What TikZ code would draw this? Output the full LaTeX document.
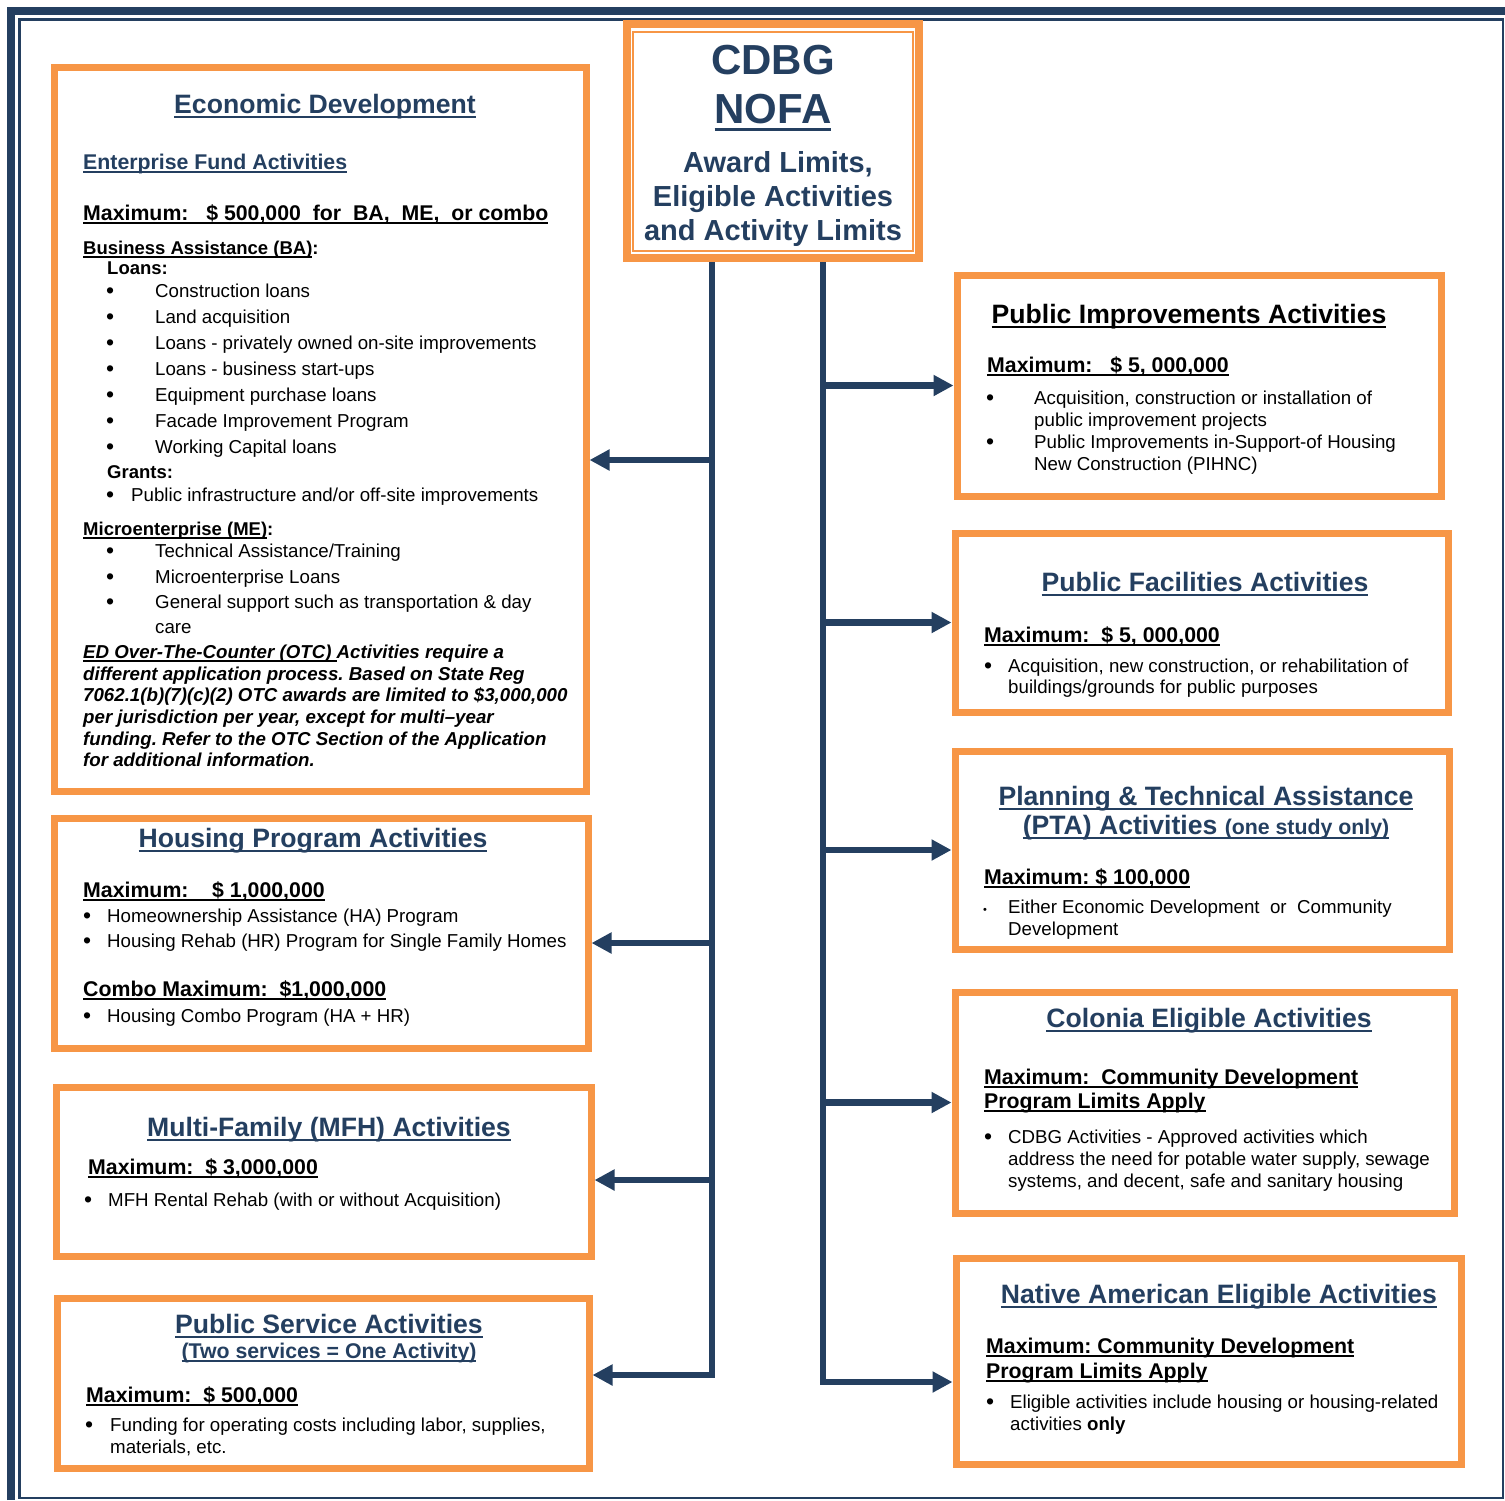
\documentclass[tikz,border=0pt]{standalone}
\usepackage{fontspec}
\setmainfont{Liberation Sans}
\usepackage{tikz}
\usetikzlibrary{arrows.meta}
\usetikzlibrary{positioning, calc}
\definecolor{cdbgnavy}{HTML}{243F60}
\definecolor{cdbgorange}{HTML}{F79646}
\frenchspacing
\newcommand{\ulbox}[1]{\setbox0=\hbox{#1}\rlap{\vrule height -0.11em depth 0.2em width \wd0}\box0}
\tikzset{
panel/.style = {rectangle, draw = cdbgorange, line width = 7pt, fill = white, inner sep = 0pt},
trunk/.style = {draw = cdbgnavy, line width = 6.5pt},
branch/.style = {draw = cdbgnavy, line width = 6.5pt, line join = miter, -{Triangle[length = 20pt, width = 20pt]}},
boxtitle/.style = {anchor = base, inner sep = 0pt, text = cdbgnavy, font = \fontsize{26.6}{30}\selectfont\bfseries},
boxsub/.style = {anchor = base, inner sep = 0pt, text = cdbgnavy, font = \fontsize{21.3}{24}\selectfont\bfseries},
maxtext/.style = {anchor = base west, inner sep = 0pt, font = \fontsize{21.3}{24}\selectfont\bfseries},
grouptext/.style = {anchor = base west, inner sep = 0pt, font = \fontsize{18.5}{22}\selectfont\bfseries},
bodytext/.style = {anchor = base west, inner sep = 0pt, font = \fontsize{18.7}{22}\selectfont},
notetext/.style = {bodytext, font = \fontsize{18.7}{22}\selectfont\bfseries\itshape},
bul/.style = {bodytext, font = \fontsize{23}{24}\selectfont, xshift = -1pt, yshift = -1.5pt},
}
\begin{document}
\begin{tikzpicture}[x = 1pt, y = -1pt]
    \useasboundingbox (0,0) rectangle (1505,1500);
    % page frame
    \draw[cdbgnavy, line width = 7.5pt] (11,1500) |- (1505,11);
    \draw[cdbgnavy, line width = 2.5pt] (19.5,19.5) rectangle (1503,1498);
    % title box
    \node[panel, line width = 8pt, minimum width = 292pt, minimum height = 234pt] (cdbg) at (773,141) {};
    \draw[cdbgorange, line width = 2pt] ($(cdbg.north west)+(10,12)$) rectangle ($(cdbg.south east)+(-10,-11)$);
    \node[boxtitle, font = \fontsize{42}{46}\selectfont\bfseries] (cdbgA) at (773,74) {CDBG};
    \node[boxtitle, font = \fontsize{42}{46}\selectfont\bfseries] (cdbgB) at (773,123) {\ulbox{NOFA}};
    \node[boxtitle, font = \fontsize{29}{34}\selectfont\bfseries] (cdbgC) at (778,172) {Award Limits,};
    \node[boxtitle, font = \fontsize{29}{34}\selectfont\bfseries] (cdbgD) at (773,206) {Eligible Activities};
    \node[boxtitle, font = \fontsize{29}{34}\selectfont\bfseries] (cdbgE) at (773,240) {and Activity Limits};
    % left column
    \node[panel, minimum width = 532pt, minimum height = 724pt] (ed) at (320,429) {};
    \node[panel, minimum width = 534pt, minimum height = 230pt] (hous) at (321,933) {};
    \node[panel, minimum width = 535pt, minimum height = 169pt] (mfh) at (323.5,1171.5) {};
    \node[panel, minimum width = 532pt, minimum height = 170pt] (ps) at (323,1383) {};
    % right column
    \node[panel, minimum width = 484pt, minimum height = 221pt] (pi) at (1199,385.5) {};
    \node[panel, minimum width = 493pt, minimum height = 179pt] (pf) at (1201.5,622.5) {};
    \node[panel, minimum width = 494pt, minimum height = 198pt] (pta) at (1202,850) {};
    \node[panel, minimum width = 499pt, minimum height = 221pt] (col) at (1204.5,1102.5) {};
    \node[panel, minimum width = 505pt, minimum height = 206pt] (na) at (1208.5,1361) {};
    % connectors
    \coordinate (ltop) at ($(cdbg.south)+(-61,0)$);
    \coordinate (rtop) at ($(cdbg.south)+(50,0)$);
    \coordinate (led) at (712,460);
    \coordinate (lhous) at (712,943);
    \coordinate (lmfh) at (712,1180);
    \coordinate (lend) at (712,1375);
    \coordinate (rend) at (823,1382);
    \draw[branch] (ltop) -- (lend) -- (lend -| ps.east);
    \draw[branch] (led) -- (led -| ed.east);
    \draw[branch] (lhous) -- (lhous -| hous.east);
    \draw[branch] (lmfh) -- (lmfh -| mfh.east);
    \draw[branch] (rtop) -- (rend) -- (rend -| na.west);
    \draw[branch] (rtop |- pi.west) -- (pi.west);
    \draw[branch] (rtop |- pf.west) -- (pf.west);
    \draw[branch] (rtop |- pta.west) -- (pta.west);
    \draw[branch] (rtop |- col.west) -- (col.west);
    % economic development
    \node[boxtitle] (edT) at (325,113) {\ulbox{Economic Development}};
    \node[boxsub, anchor = base west] (edS) at (83,169) {\ulbox{Enterprise Fund Activities}};
    \node[maxtext] (edM) at (83,220) {\ulbox{Maximum:\ \ \ \$ 500,000\ \ for\ \ BA,\ \ ME,\ \ or combo}};
    \node[grouptext] (edBA) at (83,254) {\ulbox{Business Assistance (BA)}:};
    \node[grouptext] (edLo) at (107,274) {Loans:};
    \node[bul] (edb1) at (107,297) {•}; \node[bodytext] (edl1) at (155,297) {Construction loans};
    \node[bul] (edb2) at (107,323) {•}; \node[bodytext] (edl2) at (155,323) {Land acquisition};
    \node[bul] (edb3) at (107,349) {•}; \node[bodytext] (edl3) at (155,349) {Loans - privately owned on-site improvements};
    \node[bul] (edb4) at (107,375) {•}; \node[bodytext] (edl4) at (155,375) {Loans - business start-ups};
    \node[bul] (edb5) at (107,401) {•}; \node[bodytext] (edl5) at (155,401) {Equipment purchase loans};
    \node[bul] (edb6) at (107,427) {•}; \node[bodytext] (edl6) at (155,427) {Facade Improvement Program};
    \node[bul] (edb7) at (107,453) {•}; \node[bodytext] (edl7) at (155,453) {Working Capital loans};
    \node[grouptext] (edGr) at (107,478) {Grants:};
    \node[bul] (edb8) at (107,501) {•}; \node[bodytext] (edl8) at (131,501) {Public infrastructure and/or off-site improvements};
    \node[grouptext] (edME) at (83,535) {\ulbox{Microenterprise (ME)}:};
    \node[bul] (edb9) at (107,557) {•}; \node[bodytext] (edl9) at (155,557) {Technical Assistance/Training};
    \node[bul] (edb10) at (107,583) {•}; \node[bodytext] (edl10) at (155,583) {Microenterprise Loans};
    \node[bul] (edb11) at (107,608) {•}; \node[bodytext] (edl11) at (155,608) {General support such as transportation \& day};
    \node[bodytext] (edl12) at (155,633) {care};
    \node[notetext] (edN1) at (83,658) {\ulbox{ED Over-The-Counter (OTC)\ }Activities require a};
    \node[notetext] (edN2) at (83,680) {different application process. Based on State Reg};
    \node[notetext] (edN3) at (83,701) {7062.1(b)(7)(c)(2) OTC awards are limited to \$3,000,000};
    \node[notetext] (edN4) at (83,723) {per jurisdiction per year, except for multi–year};
    \node[notetext] (edN5) at (83,745) {funding. Refer to the OTC Section of the Application};
    \node[notetext] (edN6) at (83,766) {for additional information.};
    % housing
    \node[boxtitle] (housT) at (313,847) {\ulbox{Housing Program Activities}};
    \node[maxtext] (housM) at (83,897) {\ulbox{Maximum:\ \ \ \ \$ 1,000,000}};
    \node[bul] (housb1) at (84,922) {•}; \node[bodytext] (housl1) at (107,922) {Homeownership Assistance (HA) Program};
    \node[bul] (housb2) at (84,947) {•}; \node[bodytext] (housl2) at (107,947) {Housing Rehab (HR) Program for Single Family Homes};
    \node[maxtext] (housC) at (83,996) {\ulbox{Combo Maximum:\ \ \$1,000,000}};
    \node[bul] (housb3) at (84,1022) {•}; \node[bodytext] (housl3) at (107,1022) {Housing Combo Program (HA + HR)};
    % multi-family
    \node[boxtitle] (mfhT) at (329,1136) {\ulbox{Multi-Family (MFH) Activities}};
    \node[maxtext] (mfhM) at (88,1174) {\ulbox{Maximum:\ \ \$ 3,000,000}};
    \node[bul] (mfhb1) at (85,1206) {•}; \node[bodytext] (mfhl1) at (108,1206) {MFH Rental Rehab (with or without Acquisition)};
    % public service
    \node[boxtitle] (psT) at (329,1333) {\ulbox{Public Service Activities}};
    \node[boxsub] (psS) at (329,1358) {\ulbox{(Two services = One Activity)}};
    \node[maxtext] (psM) at (86,1402) {\ulbox{Maximum:\ \ \$ 500,000}};
    \node[bul] (psb1) at (86,1431) {•}; \node[bodytext] (psl1) at (110,1431) {Funding for operating costs including labor, supplies,};
    \node[bodytext] (psl2) at (110,1453) {materials, etc.};
    % public improvements
    \node[boxtitle, text = black] (piT) at (1189,323) {\ulbox{Public Improvements Activities}};
    \node[maxtext] (piM) at (987,372) {\ulbox{Maximum:\ \ \ \$ 5, 000,000}};
    \node[bul] (pib1) at (987,404) {•}; \node[bodytext] (pil1) at (1034,404) {Acquisition, construction or installation of};
    \node[bodytext] (pil2) at (1034,426) {public improvement projects};
    \node[bul] (pib2) at (987,448) {•}; \node[bodytext] (pil3) at (1034,448) {Public Improvements in-Support-of Housing};
    \node[bodytext] (pil4) at (1034,470) {New Construction (PIHNC)};
    % public facilities
    \node[boxtitle] (pfT) at (1205,591) {\ulbox{Public Facilities Activities}};
    \node[maxtext] (pfM) at (984,642) {\ulbox{Maximum:\ \ \$ 5, 000,000}};
    \node[bul] (pfb1) at (985,672) {•}; \node[bodytext] (pfl1) at (1008,672) {Acquisition, new construction, or rehabilitation of};
    \node[bodytext] (pfl2) at (1008,693) {buildings/grounds for public purposes};
    % planning
    \node[boxtitle] (ptaT) at (1206,805) {\ulbox{Planning \& Technical Assistance}};
    \node[boxtitle] (ptaS) at (1206,834) {\ulbox{(PTA) Activities {\fontsize{21.3}{24}\selectfont(one study only)}}};
    \node[maxtext] (ptaM) at (984,884) {\ulbox{Maximum: \$ 100,000}};
    \node[bul, font = \fontsize{11}{12}\selectfont] (ptab1) at (984,912) {•}; \node[bodytext] (ptal1) at (1008,913) {Either Economic Development\ \ or\ \ Community};
    \node[bodytext] (ptal2) at (1008,935) {Development};
    % colonia
    \node[boxtitle] (colT) at (1209,1027) {\ulbox{Colonia Eligible Activities}};
    \node[maxtext] (colM1) at (984,1084) {\ulbox{Maximum:\ \ Community Development}};
    \node[maxtext] (colM2) at (984,1108) {\ulbox{Program Limits Apply}};
    \node[bul] (colb1) at (985,1143) {•}; \node[bodytext] (coll1) at (1008,1143) {CDBG Activities - Approved activities which};
    \node[bodytext] (coll2) at (1008,1165) {address the need for potable water supply, sewage};
    \node[bodytext] (coll3) at (1008,1187) {systems, and decent, safe and sanitary housing};
    % native american
    \node[boxtitle] (naT) at (1219,1303) {\ulbox{Native American Eligible Activities}};
    \node[maxtext] (naM1) at (986,1353) {\ulbox{Maximum: Community Development}};
    \node[maxtext] (naM2) at (986,1378) {\ulbox{Program Limits Apply}};
    \node[bul] (nab1) at (987,1408) {•}; \node[bodytext] (nal1) at (1010,1408) {Eligible activities include housing or housing-related};
    \node[bodytext] (nal2) at (1010,1430) {activities \textbf{only}};
\end{tikzpicture}
\end{document}
